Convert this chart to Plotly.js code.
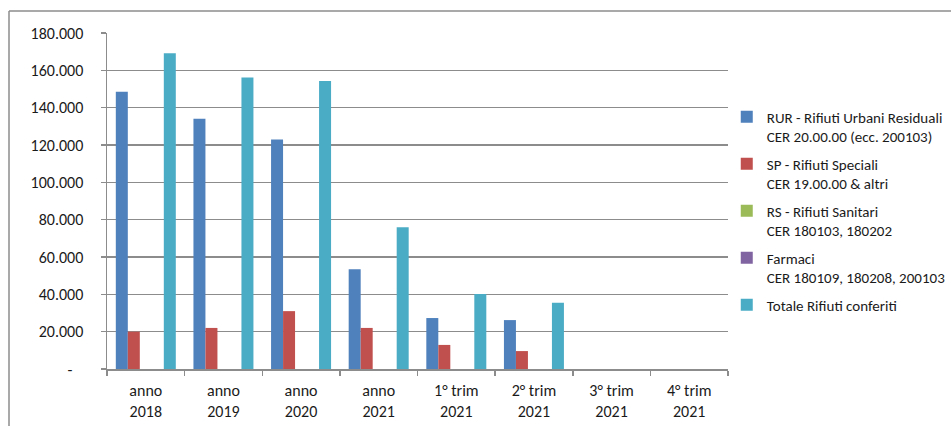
<!DOCTYPE html>
<html>
<head>
<meta charset="utf-8">
<script src="https://cdn.plot.ly/plotly-3.0.1.min.js"></script>
<style>html,body{margin:0;padding:0;background:#fff;}</style>
</head>
<body>
<div id="chart" style="width:951px;height:426px;"></div>
<script>
// Categories (x axis)
const categories = ["anno<br>2018", "anno<br>2019", "anno<br>2020", "anno<br>2021",
  "1° trim<br>2021", "2° trim<br>2021", "3° trim<br>2021", "4° trim<br>2021"];

// Series values
const rur      = [148500, 134000, 123000, 53400, 27300, 26200, null, null];
const sp       = [20000, 22000, 31000, 22000, 12900, 9600, null, null];
const rs       = [0, 0, 0, 0, 0, 0, null, null];
const farmaci  = [0, 0, 0, 0, 0, 0, null, null];
const totale   = [169100, 156200, 154300, 75900, 40200, 35500, null, null];

// Series names
const seriesNames = [
  "RUR - Rifiuti Urbani Residuali<br>CER 20.00.00 (ecc. 200103)",
  "SP - Rifiuti Speciali<br>CER 19.00.00 &amp; altri",
  "RS - Rifiuti Sanitari<br>CER 180103, 180202",
  "Farmaci<br>CER 180109, 180208, 200103",
  "Totale Rifiuti conferiti"
];
const seriesColors = ["#4F81BD", "#C0504D", "#9BBB59", "#8064A2", "#4BACC6"];

// Y tick labels
const yTickVals = [0, 20000, 40000, 60000, 80000, 100000, 120000, 140000, 160000, 180000];
const yTickText = ["-\u00a0\u00a0\u00a0", "20.000", "40.000", "60.000", "80.000", "100.000",
  "120.000", "140.000", "160.000", "180.000"];

const seriesData = [rur, sp, rs, farmaci, totale];
const traces = seriesData.map((vals, i) => ({
  type: "bar",
  x: categories,
  y: vals,
  name: seriesNames[i],
  legendgroup: "g" + i,
  marker: {color: seriesColors[i], line: {width: 0}}
}));

const font = "Carlito, Calibri, Lato, 'Open Sans', sans-serif";
const gridCol = "#8c8c8c";

const layout = {
  width: 951, height: 426,
  margin: {l: 107, r: 223, t: 33, b: 57, autoexpand: false},
  paper_bgcolor: "#ffffff",
  plot_bgcolor: "#ffffff",
  font: {family: font, size: 16, color: "#1a1a1a"},
  barmode: "group",
  bargap: 0.227,
  bargroupgap: 0,
  showlegend: true,
  legend: {
    x: 0.998, xanchor: "left",
    y: 0.47, yanchor: "middle",
    valign: "top",
    font: {family: font, size: 15, color: "#1a1a1a"},
    tracegroupgap: 5,
    bgcolor: "rgba(0,0,0,0)"
  },
  xaxis: {
    type: "category",
    showline: true, linecolor: gridCol, linewidth: 1.5,
    ticks: "outside", tickson: "boundaries", ticklen: 5, tickcolor: gridCol, tickwidth: 1.5,
    showgrid: false, zeroline: false,
    tickfont: {family: font, size: 16},
    ticklabelstandoff: 6
  },
  yaxis: {
    range: [0, 180000],
    tickvals: yTickVals, ticktext: yTickText,
    showline: true, linecolor: gridCol, linewidth: 1.5,
    ticks: "outside", ticklen: 5, tickcolor: gridCol, tickwidth: 1.5,
    showgrid: true, gridcolor: gridCol, gridwidth: 1.5,
    zeroline: false,
    tickfont: {family: font, size: 16},
    ticklabelstandoff: 14
  },
  shapes: [
    {type: "line", xref: "paper", yref: "paper",
     x0: (9 - 107) / 621, x1: (951 - 107) / 621, y0: (369 - 11) / 336, y1: (369 - 11) / 336,
     line: {color: "#8c8c8c", width: 1.5}},
    {type: "line", xref: "paper", yref: "paper",
     x0: (9 - 107) / 621, x1: (9 - 107) / 621, y0: (369 - 11) / 336, y1: (369 - 426) / 336,
     line: {color: "#8c8c8c", width: 1.5}}
  ]
};

Plotly.newPlot("chart", traces, layout, {displayModeBar: false, staticPlot: true});
</script>
</body>
</html>
